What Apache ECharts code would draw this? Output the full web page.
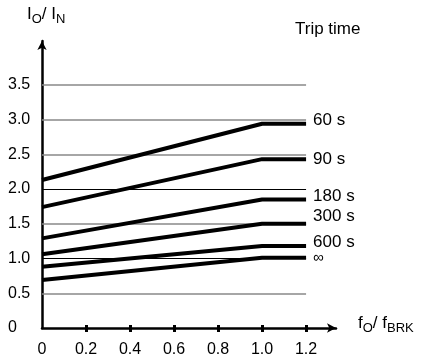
<!DOCTYPE html>
<html><head><meta charset="utf-8">
<script src="https://cdn.jsdelivr.net/npm/echarts@6/dist/echarts.min.js"></script>
<style>html,body{margin:0;padding:0;background:#fff}#c{width:429px;height:356px}</style>
</head><body><div id="c"></div>
<script>
// ---- data ----
const xBreaks = [0, 1.0, 1.2];
const seriesNames = ['60 s', '90 s', '180 s', '300 s', '600 s', '∞'];
const v60  = [2.13, 2.94, 2.94];
const v90  = [1.74, 2.43, 2.43];
const v180 = [1.29, 1.85, 1.85];
const v300 = [1.06, 1.50, 1.50];
const v600 = [0.88, 1.18, 1.18];
const vInf = [0.69, 1.01, 1.01];
const gridValues = [0.5, 1.0, 1.5, 2.0, 2.5, 3.0, 3.5];
const darkGridValues = [1.0, 2.0];
const xTicks = [0, 0.2, 0.4, 0.6, 0.8, 1.0, 1.2];
const yTicks = [0, 0.5, 1.0, 1.5, 2.0, 2.5, 3.0, 3.5];
const gridEndX = 1.2;

// ---- styling ----
const FF = 'Liberation Sans, Arial, Helvetica, sans-serif';
const allValues = [v60, v90, v180, v300, v600, vInf];
const labelOffsets = [-3, 0, -3, -7, -4, 0];
const fmt = v => (v === 0 ? '0' : v.toFixed(1));

const chart = echarts.init(document.getElementById('c'), null, {renderer: 'canvas'});

const gridLineData = gridValues.map(v => {
  const dark = darkGridValues.indexOf(v) >= 0;
  return [
    {coord: [0, v], lineStyle: {color: dark ? '#000' : '#888', width: dark ? 1 : 1.6, type: 'solid'}},
    {coord: [gridEndX, v]}
  ];
});

const series = [{
  type: 'line',
  data: [],
  silent: true,
  z: 1,
  markLine: {
    silent: true,
    symbol: ['none', 'none'],
    label: {show: false},
    animation: false,
    data: gridLineData
  }
}];

allValues.forEach((vals, i) => {
  series.push({
    type: 'line',
    name: seriesNames[i],
    data: xBreaks.map((x, k) => [x, vals[k]]),
    showSymbol: false,
    symbol: 'none',
    z: 5,
    lineStyle: {color: '#000', width: 4},
    endLabel: {
      show: true,
      formatter: '{a}',
      distance: 7,
      offset: [0, labelOffsets[i]],
      color: '#000',
      fontFamily: FF,
      fontSize: i === 5 ? 15 : 17
    },
    animation: false
  });
});

const option = {
  backgroundColor: '#fff',
  animation: false,
  grid: {left: 42, right: 93, top: 41, bottom: 28, containLabel: false, outerBoundsMode: 'none'},
  xAxis: [{
    type: 'value',
    min: 0,
    max: 1.336,
    interval: 0.2,
    axisLine: {show: true, lineStyle: {color: '#000', width: 2.5}, symbol: ['none', 'arrow'], symbolSize: [7, 9]},
    axisTick: {show: true, customValues: xTicks.slice(1), length: 4, lineStyle: {color: '#000', width: 3}},
    axisLabel: {show: true, customValues: xTicks, formatter: fmt, margin: 14, color: '#000', fontFamily: FF, fontSize: 16},
    splitLine: {show: false}
  }, {
    type: 'value',
    min: 0,
    max: 1.336,
    interval: 0.2,
    position: 'bottom',
    axisLine: {show: false},
    axisTick: {show: true, inside: true, customValues: xTicks.slice(1), length: 3, lineStyle: {color: '#000', width: 3}},
    axisLabel: {show: false},
    splitLine: {show: false}
  }],
  yAxis: {
    type: 'value',
    min: 0,
    max: 4.13,
    interval: 0.5,
    axisLine: {show: true, lineStyle: {color: '#000', width: 2.5}, symbol: ['none', 'arrow'], symbolSize: [7, 9]},
    axisTick: {show: false},
    axisLabel: {show: true, customValues: yTicks, formatter: fmt, align: 'left', margin: 34, color: '#000', fontFamily: FF, fontSize: 16},
    splitLine: {show: false}
  },
  series: series,
  graphic: [{
    type: 'text',
    x: 27, y: 6,
    style: {
      text: '{m|I}{s|O}{m|/ I}{s|N}',
      fill: '#000',
      align: 'left', verticalAlign: 'top',
      rich: {
        m: {fontSize: 17, fontFamily: FF, lineHeight: 20, verticalAlign: 'top', fill: '#000'},
        s: {fontSize: 13, fontFamily: FF, lineHeight: 16, verticalAlign: 'bottom', padding: [8, 0, 0, 0], fill: '#000'}
      }
    }
  }, {
    type: 'text',
    x: 358, y: 315,
    style: {
      text: '{m|f}{s|O}{m|/ f}{s|BRK}',
      fill: '#000',
      align: 'left', verticalAlign: 'top',
      rich: {
        m: {fontSize: 17, fontFamily: FF, lineHeight: 20, verticalAlign: 'top', fill: '#000'},
        s: {fontSize: 13, fontFamily: FF, lineHeight: 16, verticalAlign: 'bottom', padding: [5, 0, 0, 0], fill: '#000'}
      }
    }
  }, {
    type: 'text',
    x: 295, y: 19,
    style: {text: 'Trip time', fill: '#000', fontSize: 17, fontFamily: FF, align: 'left', verticalAlign: 'top', lineHeight: 20}
  }]
};
chart.setOption(option);
</script>
</body></html>
